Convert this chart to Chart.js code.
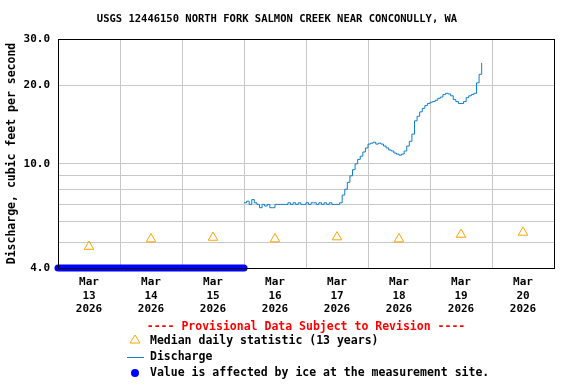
<!DOCTYPE html>
<html>
<head>
<meta charset="utf-8">
<script src="https://cdn.jsdelivr.net/npm/chart.js@4"></script>
<style>
  html, body { margin: 0; padding: 0; background: #fff; }
  #wrap { position: relative; width: 576px; height: 384px; }
</style>
</head>
<body>
<div id="wrap"><canvas id="flowChart"></canvas></div>
<script>
// Data
const chartTitle = 'USGS 12446150 NORTH FORK SALMON CREEK NEAR CONCONULLY, WA';
const monthLabel = 'Mar';
const yearLabel = '2026';
const dayLabels = ['13', '14', '15', '16', '17', '18', '19', '20'];
const yTickValues = [4, 5, 6, 7, 8, 9, 10, 20, 30];
const yLabelledTicks = [4, 10, 20, 30];

// median daily statistic, one per day (plotted at noon)
const medianValues = [4.83, 5.16, 5.23, 5.16, 5.25, 5.16, 5.37, 5.47];

// ice-affected period (days from Mar 13 00:00), plotted at the axis floor
const iceDays = [0, 3];
const iceValue = 4.0;

// discharge, hourly from Mar 16 00:00
const dischargeStartDay = 3;
const dischargeValues = [
  // Mar 16
  7.1, 7.2, 7.0, 7.3, 7.1, 7.0, 6.8, 7.0, 6.9, 7.0, 6.8, 6.8,
  7.0, 7.0, 7.0, 7.0, 7.0, 7.1, 7.0, 7.1, 7.0, 7.1, 7.0, 7.0,
  // Mar 17
  7.1, 7.0, 7.1, 7.1, 7.0, 7.1, 7.0, 7.1, 7.0, 7.1, 7.0, 7.0,
  7.0, 7.1, 7.6, 8.0, 8.5, 9.0, 9.5, 10.0, 10.4, 10.7, 11.1, 11.5,
  // Mar 18
  11.9, 12.0, 12.1, 11.9, 12.0, 11.9, 11.7, 11.5, 11.3, 11.2, 11.0, 10.9,
  10.8, 10.9, 11.2, 11.7, 12.2, 13.0, 14.6, 15.2, 15.8, 16.3, 16.7, 17.0,
  // Mar 19
  17.2, 17.3, 17.5, 17.8, 18.0, 18.4, 18.6, 18.5, 18.2, 17.6, 17.3, 17.0,
  17.0, 17.3, 17.9, 18.2, 18.4, 18.6, 20.4, 22.0, 24.3
];

const medianPoints = medianValues.map((v, i) => ({ x: i + 0.5, y: v }));
const icePoints = iceDays.map(d => ({ x: d, y: iceValue }));
const dischargePoints = dischargeValues.map((v, i) => ({ x: dischargeStartDay + i / 24, y: v }));

const MONO = '"DejaVu Sans Mono", "Liberation Mono", monospace';
const GRID = '#c8c8c8';
const FLOW_BLUE = '#0f7fd0';

const usgsDecor = {
  id: 'usgsDecor',
  afterDatasetsDraw(chart) {
    const { ctx, chartArea: a } = chart;
    ctx.save();
    ctx.strokeStyle = '#000';
    ctx.lineWidth = 1;
    ctx.strokeRect(Math.round(a.left) + 0.5, Math.round(a.top) + 0.5,
      Math.round(a.right - a.left), Math.round(a.bottom - a.top));
    ctx.restore();
  },
  afterDraw(chart) {
    const { ctx } = chart;
    ctx.save();
    ctx.textBaseline = 'middle';

    ctx.fillStyle = '#000';
    ctx.font = 'bold 10.5px ' + MONO;
    ctx.textAlign = 'center';
    ctx.fillText(chartTitle, 277, 19);

    ctx.fillStyle = '#ff0000';
    ctx.font = 'bold 11.5px ' + MONO;
    ctx.fillText('---- Provisional Data Subject to Revision ----', 306, 327);

    ctx.textAlign = 'left';
    ctx.fillStyle = '#000';
    ctx.fillText('Median daily statistic (13 years)', 150, 341);
    ctx.fillText('Discharge', 150, 357);
    ctx.fillText('Value is affected by ice at the measurement site.', 150, 373);

    // legend symbols
    ctx.strokeStyle = '#ffa500';
    ctx.lineWidth = 1;
    ctx.beginPath();
    ctx.moveTo(135, 335);
    ctx.lineTo(140, 343);
    ctx.lineTo(130, 343);
    ctx.closePath();
    ctx.stroke();

    ctx.strokeStyle = FLOW_BLUE;
    ctx.beginPath();
    ctx.moveTo(127, 357.5);
    ctx.lineTo(144, 357.5);
    ctx.stroke();

    ctx.fillStyle = '#0000ff';
    ctx.beginPath();
    ctx.arc(135, 373, 4, 0, Math.PI * 2);
    ctx.fill();
    ctx.restore();
  }
};

new Chart(document.getElementById('flowChart'), {
  type: 'line',
  data: {
    datasets: [
      {
        label: 'Value is affected by ice at the measurement site.',
        data: icePoints,
        borderColor: '#0000ff',
        borderWidth: 7,
        borderCapStyle: 'round',
        pointRadius: 0,
        clip: false
      },
      {
        label: 'Discharge',
        data: dischargePoints,
        borderColor: FLOW_BLUE,
        borderWidth: 1,
        pointRadius: 0,
        stepped: true
      },
      {
        label: 'Median daily statistic (13 years)',
        data: medianPoints,
        showLine: false,
        pointStyle: 'triangle',
        pointRadius: 5.5,
        borderColor: '#ffa500',
        backgroundColor: 'rgba(255,255,255,0)',
        borderWidth: 1
      }
    ]
  },
  options: {
    responsive: true,
    maintainAspectRatio: false,
    animation: false,
    layout: { padding: { top: 39, right: 22, left: 0, bottom: 0 } },
    plugins: {
      legend: { display: false },
      tooltip: { enabled: false }
    },
    scales: {
      x: {
        type: 'linear',
        min: 0,
        max: 8,
        afterBuildTicks: s => {
          s.ticks = [];
          for (let i = 0; i <= 16; i++) s.ticks.push({ value: i / 2 });
        },
        afterFit: s => { s.height = 116; },
        border: { display: false },
        grid: {
          drawTicks: false,
          color: c => (c.tick && Number.isInteger(c.tick.value)) ? GRID : 'rgba(0,0,0,0)'
        },
        ticks: {
          autoSkip: false,
          maxRotation: 0,
          padding: 8,
          color: '#000',
          font: { family: MONO, size: 11, weight: 'bold', lineHeight: 1.2 },
          callback: v => Number.isInteger(v) ? '' : [monthLabel, dayLabels[Math.floor(v)], yearLabel]
        }
      },
      y: {
        type: 'logarithmic',
        min: 4,
        max: 30,
        afterBuildTicks: s => { s.ticks = yTickValues.map(v => ({ value: v })); },
        afterFit: s => { s.width = 58; },
        border: { display: false },
        grid: { drawTicks: false, color: GRID },
        ticks: {
          padding: 8,
          color: '#000',
          font: { family: MONO, size: 11, weight: 'bold' },
          callback: v => yLabelledTicks.includes(v) ? v.toFixed(1) : ''
        },
        title: {
          display: true,
          text: 'Discharge, cubic feet per second',
          color: '#000',
          font: { family: MONO, size: 11.5, weight: 'bold' },
          padding: { top: 5, bottom: 0 }
        }
      }
    }
  },
  plugins: [usgsDecor]
});
</script>
</body>
</html>
